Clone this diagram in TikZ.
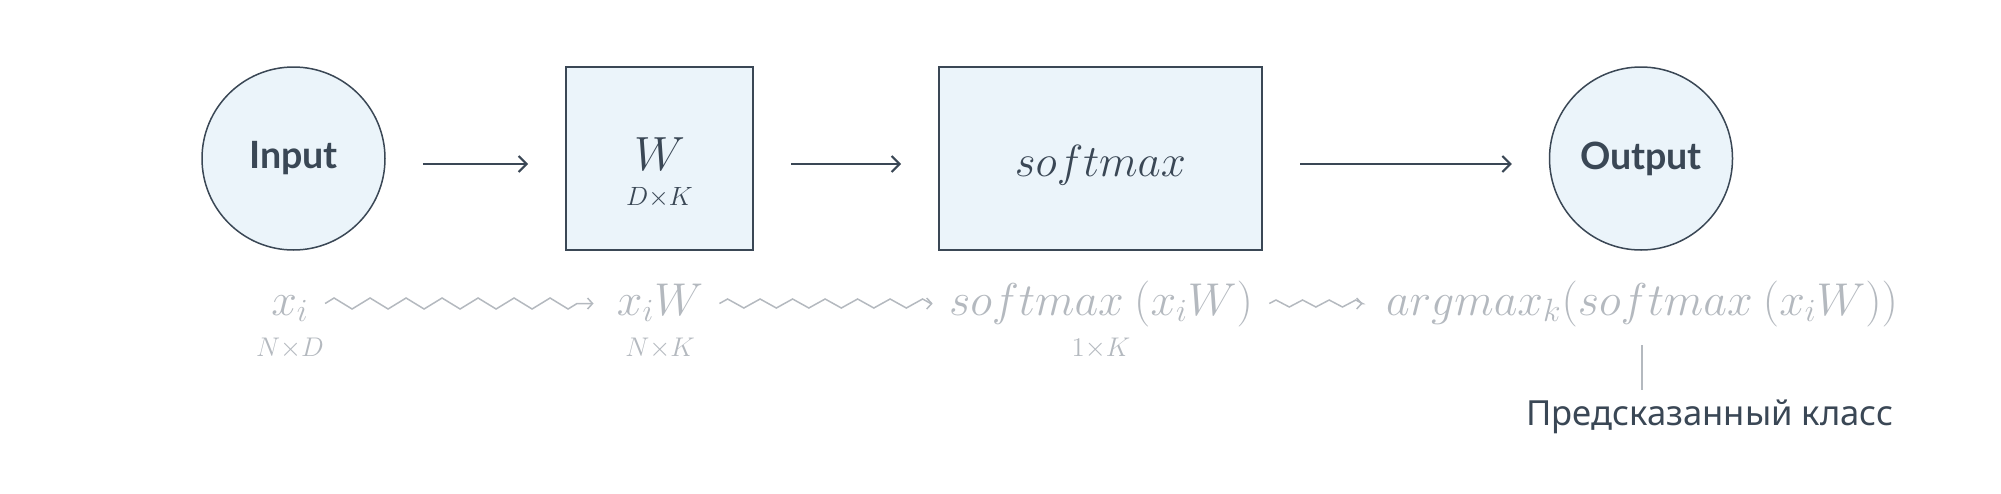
\documentclass[tikz,border=0pt]{standalone}
\usepackage{fix-cm}
\usepackage[no-math]{fontspec}
\usepackage{amsmath}
\newfontfamily\labelfont{Lato}
\newfontfamily\notefont{Noto Sans}
\usetikzlibrary{arrows.meta, decorations.pathmorphing}
\definecolor{ink}{HTML}{3A4755}
\definecolor{pale}{HTML}{EBF4FA}
\definecolor{mute}{HTML}{B4B9BF}

\begin{document}
\begin{tikzpicture}[x=0.5pt,y=-0.5pt,
 round node/.style={circle,draw=ink,fill=pale,line width=0.75pt,minimum size=91.5pt,
   inner sep=0pt,text=ink,font=\labelfont\bfseries\fontsize{18.8}{22}\selectfont},
 box node/.style={rectangle,draw=ink,fill=pale,line width=1pt,minimum height=91.5pt,inner sep=0pt},
 box text/.style={anchor=base,inner sep=0pt,text=ink,font=\fontsize{#1}{28}\selectfont},
 formula/.style={anchor=base,inner sep=0pt,text=mute,font=\fontsize{23}{28}\selectfont},
 dim/.style={anchor=base,inner sep=0pt,text=mute,font=\fontsize{13.5}{16}\selectfont},
 flow/.style={draw=ink,line width=1pt,shorten <=18.5pt,shorten >=18.5pt,
   -{Straight Barb[length=4pt,width=8pt]}},
 wave/.style 2 args={draw=mute,line width=0.75pt,-{Straight Barb[length=2.5pt,width=5.5pt]},
   decorate,decoration={zigzag,segment length=#1pt,amplitude=#2pt}}]
 \useasboundingbox (0,0) rectangle (2001,493);

 \node[round node] (input) at (293.5,158.5) {Input};
 \node[box node,minimum width=93.5pt] (w) at (659.5,158.5) {};
 \node[box node,minimum width=161.5pt] (sm) at (1100.5,158.5) {};
 \node[round node] (output) at (1641,158.5) {Output};

 \node[box text=24] (wsym) at (659.5,170) {$W$};
 \node[box text=13.2] (wdim) at (659.5,205) {$D{\times}K$};
 \node[box text=22.5] (smsym) at (1100.5,176) {$softmax$};

 \foreach \s/\t in {input/w, w/sm, sm/output}
    \draw[flow] ([yshift=-2.75pt]\s.east) -- ([yshift=-2.75pt]\t.west);

 \node[formula] (xi) at (290,315) {$x_i$};
 \node[formula] (xiW) at (660,315) {$x_iW$};
 \node[formula] (smx) at (1101,315) {$softmax\:(x_iW)$};
 \node[formula] (amx) at (1642,315) {$argmax_k(softmax\:(x_iW))$};

 \foreach \s/\d in {xi/N{\times}D, xiW/N{\times}K, smx/1{\times}K}
    \node[dim] (\s-dim) at ([yshift=-20.5pt]\s.base) {$\d$};

 \foreach \s/\t/\l/\a/\e in {xi/xiW/18/2.75/11.5, xiW/smx/16.25/2.25/8, smx/amx/13.3/1.75/11.5}
    \draw[wave={\l}{\a}] ([xshift=8pt,yshift=5.75pt]\s.base east) -- ([xshift=-\e pt,yshift=5.75pt]\t.base west);

 \node[anchor=base west,inner sep=0pt,text=ink,font=\notefont\fontsize{17.3}{20}\selectfont]
    (cls) at (1526,425) {Предсказанный класс};
 \draw[mute,line width=0.6pt] ([yshift=-9.25pt]amx.south) -- ([yshift=17.5pt]amx.south |- cls.base);
\end{tikzpicture}
\end{document}
